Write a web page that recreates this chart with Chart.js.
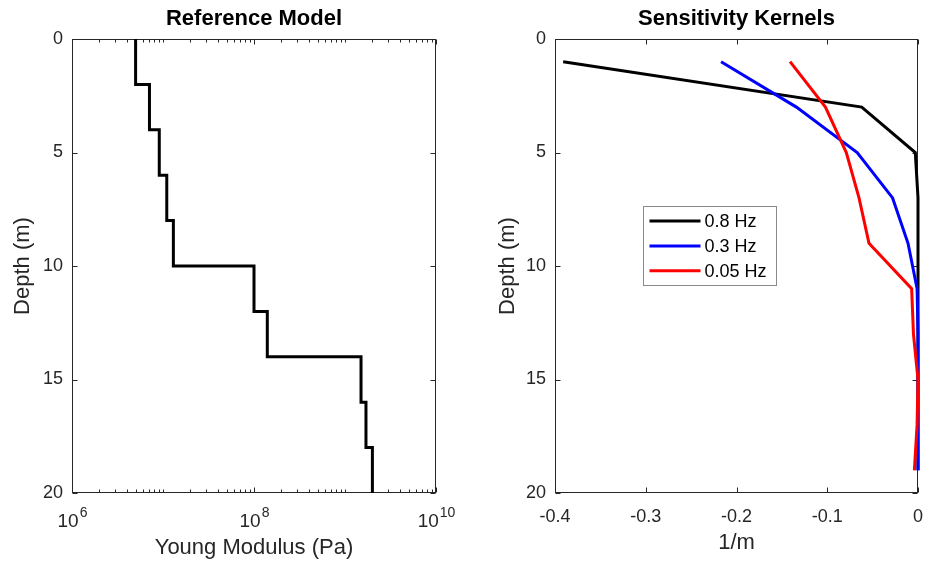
<!DOCTYPE html>
<html>
<head>
<meta charset="utf-8">
<script src="https://cdn.jsdelivr.net/npm/chart.js@4.4.1/dist/chart.umd.min.js"></script>
<style>
  html, body { margin: 0; padding: 0; background: #fff; }
  #wrap { position: relative; width: 927px; height: 562px; }
  .panel { position: absolute; top: 0; height: 562px; }
  #left-panel { left: 0; width: 463px; }
  #right-panel { left: 463px; width: 464px; }
</style>
</head>
<body>
<div id="wrap">
  <div class="panel" id="left-panel"><canvas id="model-chart"></canvas></div>
  <div class="panel" id="right-panel"><canvas id="kernel-chart"></canvas></div>
</div>
<script>
// Reference model: layer boundaries (m) and Young modulus per layer (Pa)
const layerEdges = [0, 2, 4, 6, 8, 10, 12, 14, 16, 18, 20];
const youngModulus = [5.0e6, 7.1e6, 9.1e6, 1.1e7, 1.3e7, 1.0e8, 1.4e8, 1.5e9, 1.7e9, 2.0e9];
const logLabelExponents = [6, 8, 10];

// Sensitivity kernels (1/m) per depth
const kernelDepth = [1, 3, 5, 7, 9, 11, 13, 15, 17, 19];
const kernel08 = [-0.391, -0.062, -0.003, 0, 0, 0, 0, 0, 0, 0];
const kernel03 = [-0.217, -0.134, -0.067, -0.028, -0.011, -0.001, 0, 0, 0, 0];
const kernel005 = [-0.141, -0.102, -0.079, -0.065, -0.054, -0.007, -0.005, 0, -0.001, -0.004];
const kernelLabels = ["0.8 Hz", "0.3 Hz", "0.05 Hz"];
const kernelColors = ["#000000", "#0000ff", "#ff0000"];

const FONT = '"Liberation Sans", Arial, Helvetica, sans-serif';
const AXIS_COLOR = "#262626";
Chart.defaults.font.family = FONT;
Chart.defaults.color = AXIS_COLOR;

// Stufenprofil aus Schichtgrenzen bauen
function stepPoints() {
    const pts = [];
    youngModulus.forEach((e, i) => {
        pts.push({ x: e, y: layerEdges[i] });
        pts.push({ x: e, y: layerEdges[i + 1] });
    });
    return pts;
}

function kernelPoints(values) {
    return values.map((v, i) => ({ x: v, y: kernelDepth[i] }));
}

function logTickValues(scale) {
    const out = [];
    const lo = Math.round(Math.log10(scale.min));
    const hi = Math.round(Math.log10(scale.max));
    for (let e = lo; e <= hi; e++) {
        for (let k = 1; k <= 9; k++) {
            const v = k * Math.pow(10, e);
            if (v > scale.max * 1.0001) break;
            out.push({ value: v, major: k === 1 && logLabelExponents.includes(e) });
        }
    }
    return out;
}

// MATLAB-like box with inward ticks on all four sides
const matlabAxes = {
    id: "matlabAxes",
    beforeDatasetsDraw(chart, args, opts) {
        const { ctx, chartArea: a, scales: { x, y } } = chart;
        const L = Math.round(a.left) + 0.5, R = Math.round(a.right) - 0.5;
        const T = Math.round(a.top) + 0.5, B = Math.round(a.bottom) - 0.5;
        ctx.save();
        ctx.strokeStyle = AXIS_COLOR;
        ctx.lineWidth = 1;
        ctx.strokeRect(L, T, R - L, B - T);

        const xTicks = x.type === "logarithmic"
            ? logTickValues(x)
            : x.ticks.map(t => ({ value: t.value, major: true }));
        ctx.beginPath();
        xTicks.forEach(t => {
            const px = Math.round(x.getPixelForValue(t.value)) + 0.5;
            const len = t.major ? 5 : 3;
            ctx.moveTo(px, B); ctx.lineTo(px, B - len);
            ctx.moveTo(px, T); ctx.lineTo(px, T + len);
        });
        y.ticks.forEach(t => {
            const py = Math.round(y.getPixelForValue(t.value)) + 0.5;
            ctx.moveTo(L, py); ctx.lineTo(L + 5, py);
            ctx.moveTo(R, py); ctx.lineTo(R - 5, py);
        });
        ctx.stroke();
        ctx.restore();
    },
    afterDraw(chart, args, opts) {
        const { ctx, scales: { x } } = chart;
        if (opts.logLabels) {
            // 10^n Beschriftung mit hochgestelltem Exponenten
            ctx.save();
            ctx.fillStyle = AXIS_COLOR;
            ctx.textBaseline = "alphabetic";
            ctx.textAlign = "left";
            logLabelExponents.forEach(e => {
                const px = x.getPixelForValue(Math.pow(10, e));
                ctx.font = "19px " + FONT;
                const base = "10";
                const wb = ctx.measureText(base).width;
                ctx.font = "14px " + FONT;
                const we = ctx.measureText(String(e)).width;
                const x0 = px - (wb + we) / 2;
                ctx.font = "19px " + FONT;
                ctx.fillText(base, x0, 527);
                ctx.font = "14px " + FONT;
                ctx.fillText(String(e), x0 + wb + 1, 517);
            });
            ctx.restore();
        }
        if (opts.legend) {
            const lg = opts.legend;
            const a = chart.chartArea;
            const bx = Math.round(a.left + lg.left) + 0.5, by = Math.round(a.top + lg.top) + 0.5;
            ctx.save();
            ctx.fillStyle = "#fff";
            ctx.fillRect(bx, by, lg.width, lg.height);
            ctx.strokeStyle = "#8a8a8a";
            ctx.lineWidth = 1;
            ctx.strokeRect(bx, by, lg.width, lg.height);
            ctx.font = "18px " + FONT;
            ctx.textBaseline = "middle";
            ctx.textAlign = "left";
            chart.data.datasets.forEach((ds, i) => {
                const cy = by + lg.firstRow + i * lg.rowStep;
                ctx.strokeStyle = ds.borderColor;
                ctx.lineWidth = 3;
                ctx.beginPath();
                ctx.moveTo(bx + 6, cy);
                ctx.lineTo(bx + 57, cy);
                ctx.stroke();
                ctx.fillStyle = "#000";
                ctx.fillText(ds.label, bx + 61, cy + 1);
            });
            ctx.restore();
        }
    }
};

function depthAxis(titlePadTop, width) {
    return {
        type: "linear",
        reverse: true,
        min: 0,
        max: 20,
        grid: { display: false, drawTicks: false },
        border: { display: false },
        ticks: { stepSize: 5, padding: 9, font: { size: 18 }, color: AXIS_COLOR },
        title: { display: true, text: "Depth (m)", font: { size: 22 }, color: AXIS_COLOR, padding: { top: titlePadTop } },
        afterFit: s => { s.width = width; }
    };
}

function titleOpts(text) {
    return {
        display: true,
        text: text,
        fullSize: false,
        color: "#000",
        font: { size: 22, weight: "bold" },
        padding: { top: 6, bottom: 6.6 }
    };
}

// x-Achse: feste Höhe, keine Zusatzränder durch Beschriftung
function fixX(s) {
    s.height = 69;
    s.paddingLeft = 0;
    s.paddingRight = 0;
}

new Chart(document.getElementById("model-chart"), {
    type: "scatter",
    data: {
        datasets: [{
            label: "Reference Model",
            data: stepPoints(),
            showLine: true,
            borderColor: "#000",
            borderWidth: 3,
            pointRadius: 0,
            clip: false
        }]
    },
    options: {
        responsive: true,
        maintainAspectRatio: false,
        animation: false,
        layout: { padding: { left: 0, right: 27, top: 0, bottom: 0 } },
        plugins: {
            legend: { display: false },
            tooltip: { enabled: false },
            title: titleOpts("Reference Model"),
            matlabAxes: { logLabels: true }
        },
        scales: {
            x: {
                type: "logarithmic",
                min: 1e6,
                max: 1e10,
                grid: { display: false, drawTicks: false },
                border: { display: false },
                ticks: { autoSkip: false, callback: () => "" },
                title: { display: true, text: "Young Modulus (Pa)", font: { size: 22 }, color: AXIS_COLOR, padding: { bottom: 1 } },
                afterFit: fixX
            },
            y: depthAxis(9.8, 72)
        }
    },
    plugins: [matlabAxes]
});

new Chart(document.getElementById("kernel-chart"), {
    type: "scatter",
    data: {
        datasets: [kernel08, kernel03, kernel005].map((vals, i) => ({
            label: kernelLabels[i],
            data: kernelPoints(vals),
            showLine: true,
            borderColor: kernelColors[i],
            borderWidth: 3,
            pointRadius: 0,
            clip: false,
            order: 2 - i
        }))
    },
    options: {
        responsive: true,
        maintainAspectRatio: false,
        animation: false,
        layout: { padding: { left: 0, right: 9, top: 0, bottom: 0 } },
        plugins: {
            legend: { display: false },
            tooltip: { enabled: false },
            title: titleOpts("Sensitivity Kernels"),
            matlabAxes: {
                legend: { left: 88, top: 167, width: 133, height: 79, firstRow: 14.6, rowStep: 24.8 }
            }
        },
        scales: {
            x: {
                type: "linear",
                min: -0.4,
                max: 0,
                grid: { display: false, drawTicks: false },
                border: { display: false },
                ticks: {
                    stepSize: 0.1,
                    padding: 13,
                    font: { size: 18 },
                    color: AXIS_COLOR,
                    callback: v => Math.abs(v) < 1e-9 ? "0" : v.toFixed(1)
                },
                title: { display: true, text: "1/m", font: { size: 22 }, color: AXIS_COLOR, padding: { bottom: 6 } },
                afterFit: fixX
            },
            y: depthAxis(31.8, 92)
        }
    },
    plugins: [matlabAxes]
});
</script>
</body>
</html>
